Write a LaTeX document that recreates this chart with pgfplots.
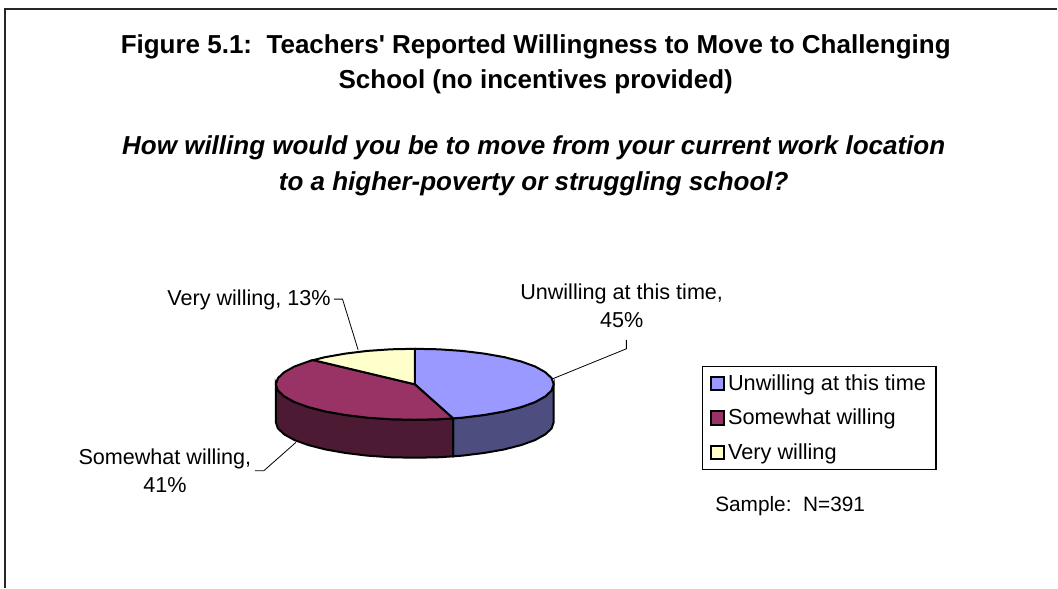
\documentclass[border=0pt]{standalone}
\usepackage{pgfplots}
\pgfplotsset{compat=1.18}
\usepackage{fontspec}
\setmainfont{Liberation Sans}
\definecolor{blueTop}{HTML}{9999FF}
\definecolor{blueSide}{HTML}{4D4D80}
\definecolor{marTop}{HTML}{993366}
\definecolor{marSide}{HTML}{4D1A33}
\definecolor{yelTop}{HTML}{FFFFCC}
\begin{document}
\begin{tikzpicture}[x=0.75pt,y=0.75pt]
\path (0,0) rectangle (1058,588);
\begin{axis}[
  at={(0,0)},anchor=south west,
  width=793.5pt,height=441pt,scale only axis,
  xmin=0,xmax=1058,ymin=0,ymax=588,y dir=reverse,
  axis lines=none,clip=false,
  legend style={at={(axis cs:702.5,366)},anchor=north west,draw=black,line width=0.9pt,
    font=\fontsize{16.3pt}{18pt}\selectfont,
    inner xsep=5.5pt,inner ysep=4pt,
    cells={anchor=west},row sep=8.75pt,
    /tikz/every even column/.append style={column sep=3.5pt}},
  legend image code/.code={\draw[#1,line width=1.5pt] (0pt,-5pt) rectangle (10pt,5pt);},
]
% side walls
\addplot[forget plot,draw=black,line width=1.5pt,fill=blueSide] coordinates {
(554,384.5)(551.9,390.7)(545.6,396.6)(535.4,402.3)(521.5,407.3)(504.4,411.7)(484.5,415.2)(462.5,417.9)(453.3,418.6)
(453.3,456.6)(462.5,455.9)(484.5,453.2)(504.4,449.7)(521.5,445.3)(535.4,440.3)(545.6,434.6)(551.9,428.7)(554,422.5)} -- cycle;
\addplot[forget plot,draw=black,line width=1.5pt,fill=marSide] coordinates {
(453.3,418.6)(439.1,419.5)(415,420)(390.9,419.5)(367.5,417.9)(345.5,415.2)(325.6,411.7)(308.5,407.3)(294.6,402.3)(284.4,396.6)(278.1,390.7)(276,384.5)
(276,422.5)(278.1,428.7)(284.4,434.6)(294.6,440.3)(308.5,445.3)(325.6,449.7)(345.5,453.2)(367.5,455.9)(390.9,457.5)(415,458)(439.1,457.5)(453.3,456.6)} -- cycle;
% top faces
\addplot[draw=black,line width=1.5pt,fill=blueTop] coordinates {
(415,384.5)(415,349)(439.1,349.5)(462.5,351.1)(484.5,353.8)(504.4,357.3)(521.5,361.7)(535.4,366.7)(545.6,372.4)(551.9,378.3)(554,384.5)
(551.9,390.7)(545.6,396.6)(535.4,402.3)(521.5,407.3)(504.4,411.7)(484.5,415.2)(462.5,417.9)(453.3,418.6)} -- cycle;
\addlegendentry{Unwilling at this time}
\addplot[draw=black,line width=1.5pt,fill=marTop] coordinates {
(415,384.5)(453.3,418.6)(439.1,419.5)(415,420)(390.9,419.5)(367.5,417.9)(345.5,415.2)(325.6,411.7)(308.5,407.3)(294.6,402.3)(284.4,396.6)(278.1,390.7)(276,384.5)
(278.1,378.3)(284.4,372.4)(294.6,366.7)(308.5,361.7)(313.4,360.3)} -- cycle;
\addlegendentry{Somewhat willing}
\addplot[draw=black,line width=1.5pt,fill=yelTop] coordinates {
(415,384.5)(313.4,360.3)(325.6,357.3)(345.5,353.8)(367.5,351.1)(390.9,349.5)(415,349)} -- cycle;
\addlegendentry{Very willing}
% leader lines
\addplot[forget plot,black,line width=0.6pt] coordinates {(626.7,340)(626.7,349)(553,379)};
\addplot[forget plot,black,line width=0.6pt] coordinates {(255,471)(264,471)(296,442.7)};
\addplot[forget plot,black,line width=0.6pt] coordinates {(334,299.3)(342.7,299.3)(358.3,350)};
% frame
\addplot[forget plot,black!85,line width=0.9pt] coordinates {(5,588)(5,9)(1058,9)};
% text
\node[align=center,font=\bfseries\fontsize{19.5pt}{26.5pt}\selectfont] at (axis cs:536,64) {Figure 5.1:\ \ Teachers\textquotesingle{} Reported Willingness to Move to Challenging\\School (no incentives provided)};
\node[align=center,font=\bfseries\itshape\fontsize{19.5pt}{27pt}\selectfont] at (axis cs:534,166) {How willing would you be to move from your current work location\\to a higher-poverty or struggling school?};
\def\lab{\fontsize{16.2pt}{21pt}\selectfont}
\node[align=center,font=\lab] at (axis cs:622,306) {Unwilling at this time,\\45\%};
\node[align=center,font=\lab] at (axis cs:165,471) {Somewhat willing,\\41\%};
\node[anchor=east,font=\lab] at (axis cs:335.5,300.5) {Very willing, 13\%};
\node[anchor=west,font=\fontsize{15.6pt}{18pt}\selectfont] at (axis cs:711,506) {Sample:\ \ N=391};
\end{axis}
\end{tikzpicture}
\end{document}
